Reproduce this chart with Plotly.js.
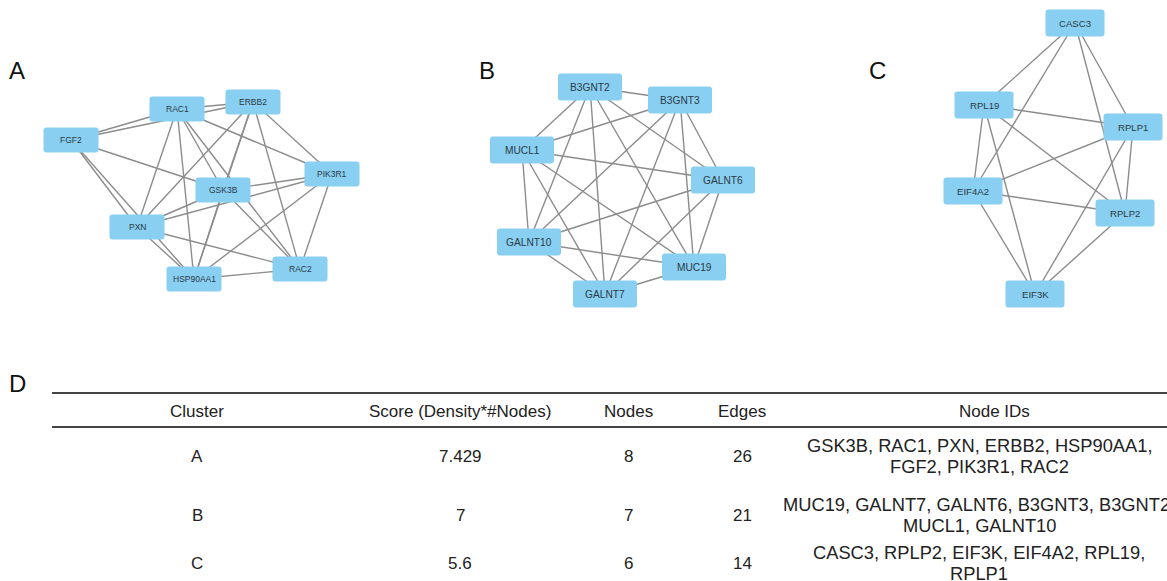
<!DOCTYPE html>
<html>
<head>
<meta charset="utf-8">
<script src="https://cdn.plot.ly/plotly-3.0.1.min.js"></script>
<style>html,body{margin:0;padding:0;background:#fff;overflow:hidden}#chart{width:1167px;height:581px}</style>
</head>
<body>
<div id="chart"></div>
<script>
// ---------- Network data ----------
const namesA = ['RAC1','ERBB2','FGF2','PIK3R1','GSK3B','PXN','HSP90AA1','RAC2'];
const xA = [177, 253, 71, 332, 223, 137, 194, 300];
const yA = [109, 102, 140, 174, 190, 227, 279, 269];
const edgesA = [
  ['RAC1','ERBB2'],['RAC1','FGF2'],['RAC1','PIK3R1'],['RAC1','GSK3B'],['RAC1','PXN'],['RAC1','HSP90AA1'],['RAC1','RAC2'],
  ['ERBB2','FGF2'],['ERBB2','PIK3R1'],['ERBB2','GSK3B'],['ERBB2','PXN'],['ERBB2','HSP90AA1'],['ERBB2','RAC2'],
  ['FGF2','GSK3B'],['FGF2','PXN'],['FGF2','HSP90AA1'],
  ['PIK3R1','GSK3B'],['PIK3R1','PXN'],['PIK3R1','HSP90AA1'],['PIK3R1','RAC2'],
  ['GSK3B','PXN'],['GSK3B','HSP90AA1'],['GSK3B','RAC2'],
  ['PXN','HSP90AA1'],['PXN','RAC2'],
  ['HSP90AA1','RAC2']
];

const namesB = ['B3GNT2','B3GNT3','MUCL1','GALNT6','GALNT10','MUC19','GALNT7'];
const xB = [590, 680, 522, 723, 529, 694, 605];
const yB = [87, 100, 150, 180, 242, 267, 294];
const edgesB = [
  ['B3GNT2','B3GNT3'],['B3GNT2','MUCL1'],['B3GNT2','GALNT6'],['B3GNT2','GALNT10'],['B3GNT2','MUC19'],['B3GNT2','GALNT7'],
  ['B3GNT3','MUCL1'],['B3GNT3','GALNT6'],['B3GNT3','GALNT10'],['B3GNT3','MUC19'],['B3GNT3','GALNT7'],
  ['MUCL1','GALNT6'],['MUCL1','GALNT10'],['MUCL1','MUC19'],['MUCL1','GALNT7'],
  ['GALNT6','GALNT10'],['GALNT6','MUC19'],['GALNT6','GALNT7'],
  ['GALNT10','MUC19'],['GALNT10','GALNT7'],
  ['MUC19','GALNT7']
];

const namesC = ['CASC3','RPL19','RPLP1','EIF4A2','RPLP2','EIF3K'];
const xC = [1075, 984, 1133, 973, 1125, 1035];
const yC = [23, 105, 127, 191, 213, 294];
const edgesC = [
  ['CASC3','RPL19'],['CASC3','EIF4A2'],['CASC3','RPLP1'],['CASC3','RPLP2'],
  ['RPL19','RPLP1'],['RPL19','RPLP2'],['RPL19','EIF4A2'],['RPL19','EIF3K'],
  ['RPLP1','EIF4A2'],['RPLP1','RPLP2'],['RPLP1','EIF3K'],
  ['EIF4A2','RPLP2'],['EIF4A2','EIF3K'],
  ['RPLP2','EIF3K']
];

// ---------- Table data ----------
const tableHeaders = ['Cluster','Score (Density*#Nodes)','Nodes','Edges','Node IDs'];
const clusters = ['A','B','C'];
const scores = ['7.429','7','5.6'];
const nodeCounts = [8, 7, 6];
const edgeCounts = [26, 21, 14];
const nodeIds = [
  ['GSK3B','RAC1','PXN','ERBB2','HSP90AA1','FGF2','PIK3R1','RAC2'],
  ['MUC19','GALNT7','GALNT6','B3GNT3','B3GNT2','MUCL1','GALNT10'],
  ['CASC3','RPLP2','EIF3K','EIF4A2','RPL19','RPLP1']
];
const panelLetters = ['A','B','C','D'];

// ---------- Styling / layout helpers ----------
const W = 1167, H = 581;
const FONT = 'Liberation Sans, Arial, sans-serif';
const NODE_FILL = '#89CFF1';
const EDGE_COLOR = '#8c8c8c';
const nets = [
  {names: namesA, x: xA, y: yA, edges: edgesA, w: 55, h: 25, fs: 8.5},
  {names: namesB, x: xB, y: yB, edges: edgesB, w: 64, h: 27, fs: 10.2},
  {names: namesC, x: xC, y: yC, edges: edgesC, w: 59, h: 27, fs: 9.6}
];

const traces = [];
const shapes = [];
const annotations = [];

function roundRect(cx, cy, w, h, r) {
  const x0 = cx - w/2, x1 = cx + w/2, y0 = cy - h/2, y1 = cy + h/2;
  return `M ${x0+r},${y0} L ${x1-r},${y0} Q ${x1},${y0} ${x1},${y0+r} L ${x1},${y1-r} Q ${x1},${y1} ${x1-r},${y1} ` +
         `L ${x0+r},${y1} Q ${x0},${y1} ${x0},${y1-r} L ${x0},${y0+r} Q ${x0},${y0} ${x0+r},${y0} Z`;
}

nets.forEach(net => {
  const idx = {};
  net.names.forEach((n, i) => idx[n] = i);
  const ex = [], ey = [];
  net.edges.forEach(([a, b]) => {
    ex.push(net.x[idx[a]], net.x[idx[b]], null);
    ey.push(net.y[idx[a]], net.y[idx[b]], null);
  });
  traces.push({
    type: 'scatter', mode: 'lines', x: ex, y: ey,
    line: {color: EDGE_COLOR, width: 1.4}, hoverinfo: 'skip', showlegend: false
  });
  net.names.forEach((n, i) => {
    shapes.push({
      type: 'path', xref: 'x', yref: 'y', layer: 'above',
      path: roundRect(net.x[i], net.y[i], net.w, net.h, 3),
      fillcolor: NODE_FILL, line: {width: 0}
    });
    annotations.push({
      x: net.x[i], y: net.y[i], xref: 'x', yref: 'y', text: n, showarrow: false,
      font: {family: FONT, size: net.fs, color: '#2b3a45'}, xanchor: 'center', yanchor: 'middle'
    });
  });
});

// Panel letters
const letterPos = [[17, 70], [487, 70], [877, 70], [17, 383]];
panelLetters.forEach((L, i) => {
  annotations.push({
    x: letterPos[i][0], y: letterPos[i][1], xref: 'x', yref: 'y', text: L, showarrow: false,
    font: {family: FONT, size: 24, color: '#111'}, xanchor: 'center', yanchor: 'middle'
  });
});

// Table
const colX = [197, 460, 628, 742, 979];
const headerY = 411;
const rowY = [456, 515, 563];
const lineGap = 10.5;
const hfont = {family: FONT, size: 17, color: '#222'};
const bfont = {family: FONT, size: 17, color: '#222'};
const idfont = {family: FONT, size: 18.3, color: '#222'};
tableHeaders.forEach((h, j) => {
  annotations.push({x: j === 4 ? 994 : colX[j], y: headerY, xref: 'x', yref: 'y', text: h, showarrow: false,
    font: hfont, xanchor: 'center', yanchor: 'middle'});
});
clusters.forEach((c, i) => {
  const cells = [c, scores[i], String(nodeCounts[i]), String(edgeCounts[i])];
  cells.forEach((t, j) => {
    annotations.push({x: colX[j], y: rowY[i], xref: 'x', yref: 'y', text: t, showarrow: false,
      font: bfont, xanchor: 'center', yanchor: 'middle'});
  });
  const ids = nodeIds[i];
  const lines = [ids.slice(0, 5).join(', ') + ',', ids.slice(5).join(', ')];
  lines.forEach((ln, k) => {
    annotations.push({x: colX[4], y: rowY[i] + (k === 0 ? -lineGap : lineGap), xref: 'x', yref: 'y', text: ln,
      showarrow: false, font: idfont, xanchor: 'center', yanchor: 'middle'});
  });
});
shapes.push({type: 'line', xref: 'x', yref: 'y', x0: 52, x1: W, y0: 393, y1: 393, line: {color: '#444', width: 2}});
shapes.push({type: 'line', xref: 'x', yref: 'y', x0: 52, x1: W, y0: 427, y1: 427, line: {color: '#444', width: 2}});

const layout = {
  width: W, height: H,
  margin: {l: 0, r: 0, t: 0, b: 0, pad: 0},
  paper_bgcolor: '#fff', plot_bgcolor: '#fff',
  xaxis: {range: [0, W], visible: false, fixedrange: true},
  yaxis: {range: [H, 0], visible: false, fixedrange: true},
  showlegend: false,
  shapes: shapes,
  annotations: annotations
};

Plotly.newPlot('chart', traces, layout, {displayModeBar: false, staticPlot: true});
</script>
</body>
</html>
